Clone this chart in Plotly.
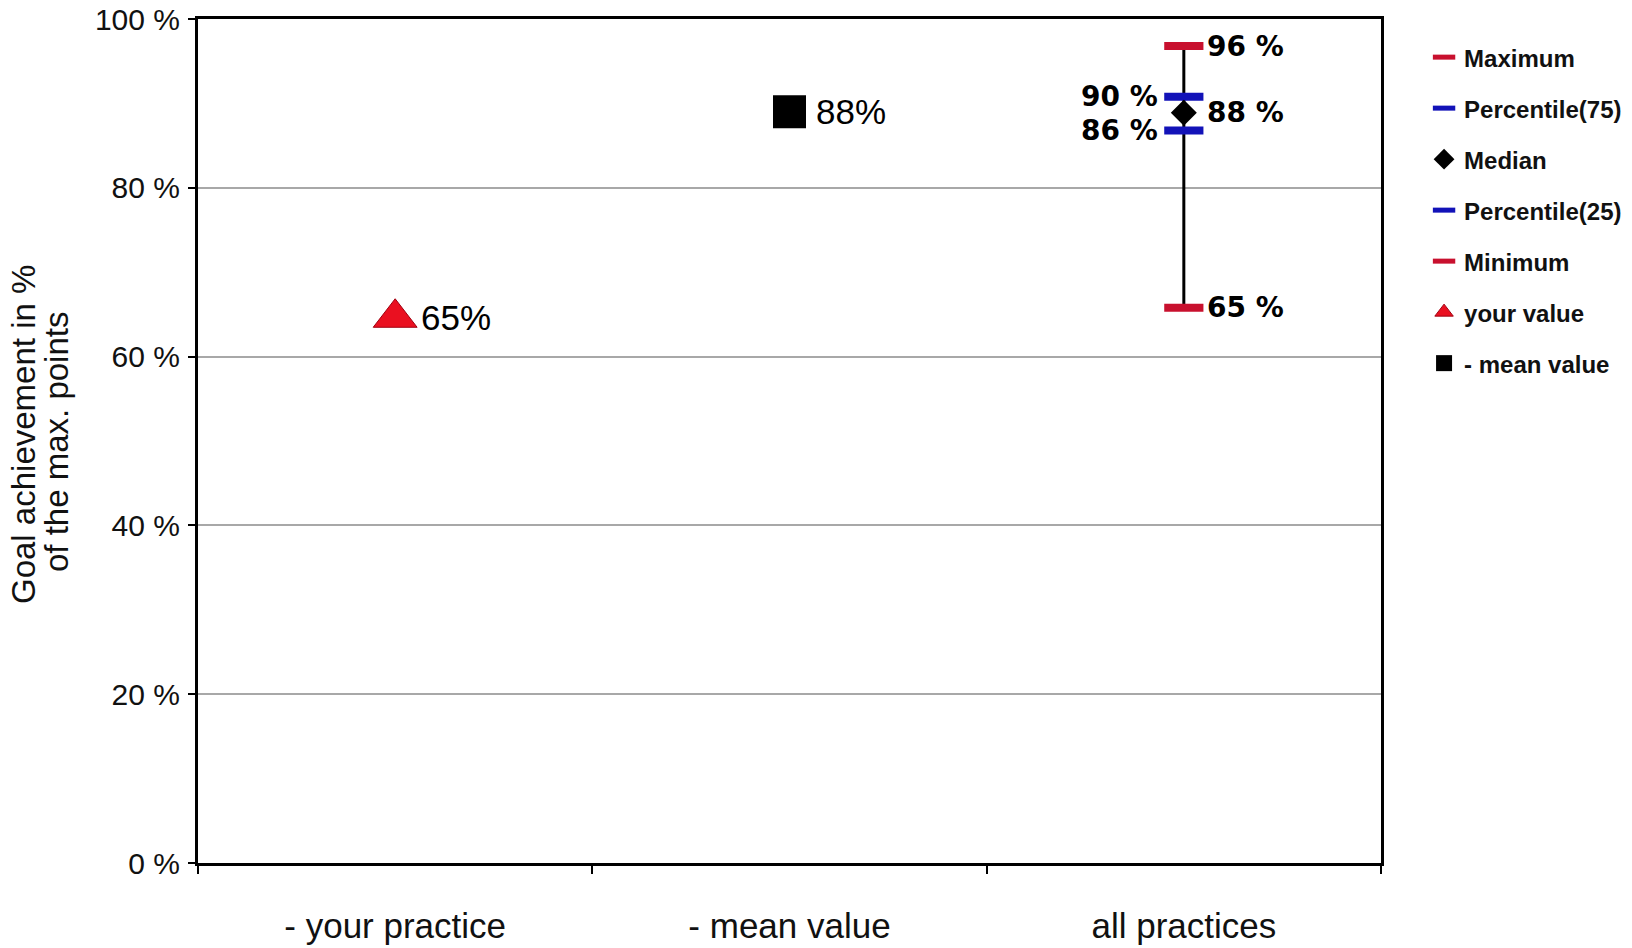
import plotly.graph_objects as go

# ---- data ----
categories = ["- your practice", "- mean value", "all practices"]

box_names = ["Maximum", "Percentile(75)", "Median", "Percentile(25)", "Minimum"]
box_values = [96.8, 90.8, 88.9, 86.8, 65.8]
box_labels = ["96 %", "90 %", "88 %", "86 %", "65 %"]

your_value = 64.6
your_label = "65%"
mean_value = 89.0
mean_label = "88%"

y_tickvals = [0, 20, 40, 60, 80, 100]
y_ticktext = ["0 %", "20 %", "40 %", "60 %", "80 %", "100 %"]

y_title_lines = ["Goal achievement in %", "of the max. points"]

# ---- styling ----
RED = "#c8102e"
BLUE = "#1212b8"
FONT = "Liberation Sans, Arial, sans-serif"
BOLDFONT = "DejaVu Sans, sans-serif"

box_styles = {
    "Maximum": dict(symbol="line-ew", size=28, color=RED, lw=8, side="right"),
    "Percentile(75)": dict(symbol="line-ew", size=28, color=BLUE, lw=8, side="left"),
    "Median": dict(symbol="diamond", size=20, color="black", lw=0, side="right"),
    "Percentile(25)": dict(symbol="line-ew", size=28, color=BLUE, lw=8, side="left"),
    "Minimum": dict(symbol="line-ew", size=28, color=RED, lw=8, side="right"),
}

fig = go.Figure()

cat_all = categories[2]
# whisker line min -> max
fig.add_trace(go.Scatter(
    x=[cat_all, cat_all], y=[min(box_values), max(box_values)],
    mode="lines", line=dict(color="black", width=3),
    showlegend=False, hoverinfo="skip"))

annotations = []
for name, v, lab in zip(box_names, box_values, box_labels):
    st = box_styles[name]
    fig.add_trace(go.Scatter(
        x=[cat_all], y=[v], mode="markers", name=name, legendgroup=name,
        marker=dict(symbol=st["symbol"], size=st["size"], color=st["color"],
                    line=dict(color=st["color"], width=st["lw"]))))
    annotations.append(dict(
        x=cat_all, y=v, xref="x", yref="y", text=lab, showarrow=False,
        xanchor="left" if st["side"] == "right" else "right",
        xshift=21 if st["side"] == "right" else -24,
        font=dict(family=BOLDFONT, size=28, color="black", weight="bold")))

fig.add_trace(go.Scatter(
    x=[categories[0]], y=[your_value], mode="markers", name="your value",
    legendgroup="your value",
    marker=dict(symbol="triangle-up", size=38, color="#ea1020",
                line=dict(color="#a00010", width=1))))
annotations.append(dict(
    x=categories[0], y=your_value, xref="x", yref="y", text=your_label,
    showarrow=False, xanchor="left", xshift=24, yshift=0,
    font=dict(family=FONT, size=35, color="black")))

fig.add_trace(go.Scatter(
    x=[categories[1]], y=[mean_value], mode="markers", name="- mean value",
    legendgroup="- mean value",
    marker=dict(symbol="square", size=33, color="black")))
annotations.append(dict(
    x=categories[1], y=mean_value, xref="x", yref="y", text=mean_label,
    showarrow=False, xanchor="left", xshift=24,
    font=dict(family=FONT, size=35, color="black")))

# y-axis title as two rotated lines
for line_text, xs, ys in zip(y_title_lines, [-175, -142], [6, -1]):
    annotations.append(dict(
        x=0, y=0.5, xref="paper", yref="paper", text=line_text,
        textangle=-90, showarrow=False, xanchor="center", yanchor="middle",
        xshift=xs, yshift=ys, font=dict(family=FONT, size=33, color="#111111")))

# page body has an 8px margin: figure sized to fill the rest of the window
fig.update_layout(
    width=1624, height=940,
    margin=dict(l=190, r=251, t=11, b=85, autoexpand=False),
    paper_bgcolor="white", plot_bgcolor="white",
    annotations=annotations,
    showlegend=True,
    legend=dict(
        x=1.0364, xanchor="left", y=0.981, yanchor="top",
        font=dict(family=FONT, size=24, color="#111111", weight="bold"),
        tracegroupgap=16.8, bgcolor="rgba(0,0,0,0)", borderwidth=0,
    ),
    xaxis=dict(
        type="category", categoryorder="array", categoryarray=categories,
        range=[-0.5, 2.5], tickson="boundaries", ticks="outside",
        ticklen=8, tickwidth=2, tickcolor="black",
        showline=True, linecolor="black", linewidth=3, mirror=True,
        showgrid=False, ticklabelstandoff=30, ticklabeloverflow="allow",
        tickfont=dict(family=FONT, size=35, color="#111111"),
    ),
    yaxis=dict(
        range=[0, 100], tickvals=y_tickvals, ticktext=y_ticktext,
        ticks="outside", ticklen=7, tickwidth=2, tickcolor="black",
        showline=True, linecolor="black", linewidth=3, mirror=True,
        showgrid=True, gridcolor="#a8a8a8", gridwidth=2, zeroline=False,
        ticklabelstandoff=2, ticklabeloverflow="allow",
        tickfont=dict(family=FONT, size=30, color="#111111"),
    ),
)

fig.write_html("out.html")
